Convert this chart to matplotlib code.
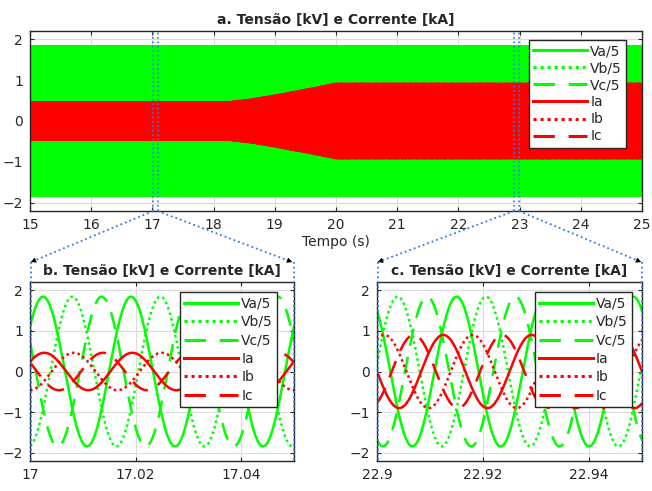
import numpy as np
import matplotlib
matplotlib.use('Agg')
import matplotlib.pyplot as plt
from matplotlib.lines import Line2D

# Three-phase voltages (scaled by 1/5) and currents, 60 Hz
freq = 60.0
v_amp = 1.84                       # kV/5 peak
labels = ['Va/5', 'Vb/5', 'Vc/5', 'Ia', 'Ib', 'Ic']
shifts = [0.0, -2 * np.pi / 3, 2 * np.pi / 3]   # a, b, c

# current envelope over the whole run (kA peak)
env_t = [15.0, 18.25, 18.6, 19.0, 19.5, 20.0, 25.0]
env_i = [0.47, 0.47, 0.53, 0.63, 0.77, 0.92, 0.92]

# zoom windows: start, end, voltage phase, current phase, current peak
win_b = (17.0, 17.05, 0.64, 0.55, 0.46)
win_c = (22.9, 22.95, 2.195, 3.14, 0.90)

GREEN = '#00ff00'
RED = '#ff0000'
BLUE = '#2b7de0'
DARK = '#262626'
styles = [dict(ls='-'), dict(ls=':', dashes=(1.0, 1.3)), dict(ls='--', dashes=(7, 4.5))]

plt.rcParams['font.family'] = 'DejaVu Sans'
plt.rcParams['font.size'] = 10
plt.rcParams['text.color'] = DARK
plt.rcParams['axes.labelcolor'] = DARK
plt.rcParams['xtick.labelcolor'] = DARK
plt.rcParams['ytick.labelcolor'] = DARK

fig = plt.figure(figsize=(6.52, 4.91), dpi=100)
W, H = 652.0, 491.0


def px_axes(x0, y0, x1, y1):
    return fig.add_axes([x0 / W, 1 - y1 / H, (x1 - x0) / W, (y1 - y0) / H])


def style_axes(ax):
    ax.set_ylim(-2.2, 2.2)
    ax.set_yticks([-2, -1, 0, 1, 2])
    ax.grid(True, color='#dcdcdc', lw=0.8)
    ax.set_axisbelow(True)
    ax.tick_params(direction='in', top=True, right=True, length=3,
                   color=DARK, labelsize=10, pad=5)
    for s in ax.spines.values():
        s.set_color(DARK)
        s.set_linewidth(1.0)


def draw_phases(ax, t, ph_v, ph_i, amp_i, lw):
    w = 2 * np.pi * freq
    for k, sh in enumerate(shifts):
        ax.plot(t, v_amp * np.sin(w * t + ph_v + sh), color=GREEN, lw=lw,
                label=labels[k], **styles[k])
    for k, sh in enumerate(shifts):
        ax.plot(t, amp_i * np.sin(w * t + ph_i + sh), color=RED, lw=lw,
                label=labels[k + 3], **styles[k])


def add_legend(ax, anchor, spacing):
    leg = ax.legend(loc='upper right', bbox_to_anchor=anchor, borderaxespad=0,
                    fancybox=False, framealpha=1, edgecolor=DARK,
                    handlelength=3.9, handletextpad=0.2, labelspacing=spacing,
                    borderpad=0.3, fontsize=10)
    leg.get_frame().set_linewidth(1.0)
    for h in leg.get_lines():
        h.set_linewidth(2.2)


# --- a. full run ---
ax_a = px_axes(30, 31, 642, 211)
t = np.linspace(15, 25, 60 * 10 * 40 + 1)
amp_env = np.interp(t, env_t, env_i)
draw_phases(ax_a, t, win_b[2], win_b[3], amp_env, 1.2)
ax_a.set_xlim(15, 25)
ax_a.set_xticks(np.arange(15, 26, 1))
style_axes(ax_a)
ax_a.set_title('a. Tensão [kV] e Corrente [kA]', fontweight='bold', fontsize=10, pad=5)
ax_a.set_xlabel('Tempo (s)', labelpad=2)
add_legend(ax_a, (0.974, 0.95), 0.22)

# zoom markers on the full-run axes
for x in (17.01, 17.085, 22.91, 22.985):
    ax_a.axvline(x, color=BLUE, ls=':', lw=1.2, zorder=5)

# --- b. and c. zoomed windows ---
panels = []
for (x0, x1), win, title, anchor in [((30, 294), win_b, 'b. Tensão [kV] e Corrente [kA]', (0.936, 0.942)),
                                     ((377, 642), win_c, 'c. Tensão [kV] e Corrente [kA]', (0.961, 0.942))]:
    ax = px_axes(x0, 282, x1, 461)
    t0, t1, ph_v, ph_i, amp_i = win
    tt = np.linspace(t0, t1, 800)
    draw_phases(ax, tt, ph_v, ph_i, amp_i, 1.8)
    ax.set_xlim(t0, t1)
    ax.set_xticks([t0, t0 + 0.02, t0 + 0.04])
    ax.set_xticklabels(['%g' % round(v, 2) for v in (t0, t0 + 0.02, t0 + 0.04)])
    style_axes(ax)
    ax.set_title(title, fontweight='bold', fontsize=10, pad=5)
    add_legend(ax, anchor, 0.32)
    panels.append(ax)

# connectors from the full-run axes to the zoomed windows (figure pixels)
def fig_line(x0, y0, x1, y1):
    fig.add_artist(Line2D([x0 / W, x1 / W], [1 - y0 / H, 1 - y1 / H],
                          transform=fig.transFigure, color=BLUE, ls=':', lw=1.3))


def arrow_head(x0, y0, x1, y1):
    d = np.hypot(x1 - x0, y1 - y0)
    xs, ys = x1 - (x1 - x0) / d * 6, y1 - (y1 - y0) / d * 6
    fig.add_artist(plt.annotate('', xy=(x1 / W, 1 - y1 / H), xytext=(xs / W, 1 - ys / H),
                                xycoords='figure fraction', textcoords='figure fraction',
                                arrowprops=dict(arrowstyle='-|>', color='black', lw=0,
                                                mutation_scale=9, shrinkA=0, shrinkB=0)))


for (sx, ex) in [(153, 31), (157.5, 292), (514, 378), (519, 641)]:
    fig_line(sx, 211, ex, 262)
    arrow_head(sx, 211, ex, 262)

for x in (30.5, 293.5, 377.5, 641.5):
    fig_line(x, 262, x, 461)

fig.savefig('out.png', dpi=100)
